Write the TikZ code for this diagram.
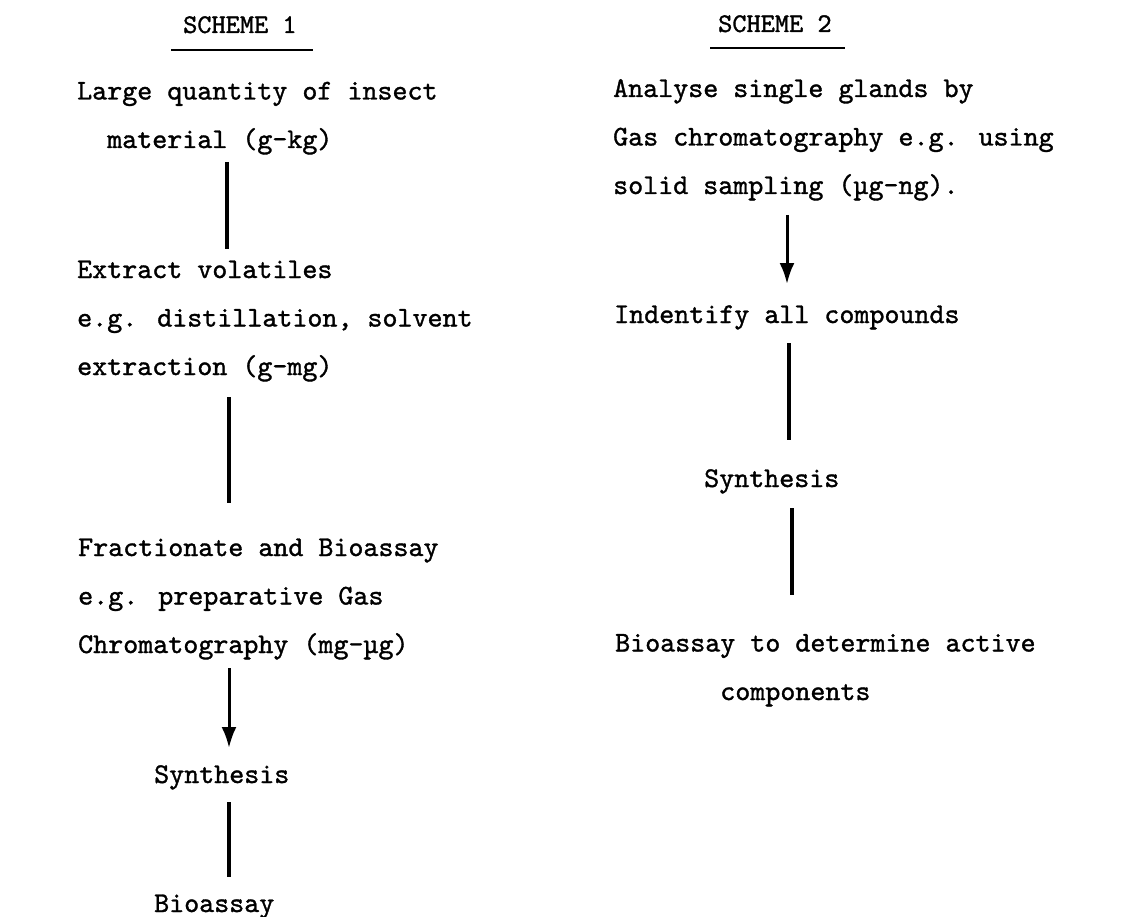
\documentclass[tikz,border=0pt]{standalone}
\usepackage{fontspec}
\newfontfamily\tw{lmmono10-regular.otf}[FakeBold=1.2]
\usetikzlibrary{arrows.meta}
\begin{document}
\begin{tikzpicture}[x=1pt,y=-1pt,
  txt/.style={anchor=base west,inner sep=0pt,align=left,
    font=\fontsize{28.6}{48.5}\selectfont\tw},
  ttl/.style={anchor=base west,inner sep=0pt,
    font=\fontsize{27}{30}\selectfont\tw},
  uline/.style={line width=2.6pt},
  link/.style={line width=3.2pt},
  arrowlink/.style={draw,line width=3pt,-{Latex[length=21pt,width=15pt]}}]
\useasboundingbox[fill=white] (0,0) rectangle (1123,917);
% titles
\node[ttl] (t1) at (183,33) {SCHEME 1};
\node[ttl] (t2) at (718,32) {SCHEME 2};
\coordinate (u1a) at (171,50); \coordinate (u1b) at (313,50);
\coordinate (u2a) at (710,48); \coordinate (u2b) at (845,48);
\draw[uline] (u1a) -- (u1b);
\draw[uline] (u2a) -- (u2b);
% scheme 1 (base anchor = baseline of last line)
\node[txt] (a1) at (77,148) {Large quantity of insect\\\hphantom{12}material (g-kg)};
\node[txt] (a2) at (77,375) {Extract volatiles\\e.g. distillation, solvent\\extraction (g-mg)};
\node[txt] (a3) at (78,653) {Fractionate and Bioassay\\e.g. preparative Gas\\Chromatography (mg-\textmu g)};
\node[txt] (a4) at (154,783) {Synthesis};
\node[txt] (a5) at (154,912) {Bioassay};
% scheme 2
\node[txt] (b1) at (613,194) {Analyse single glands by\\Gas chromatography e.g. using\\solid sampling (\textmu g-ng).};
\node[txt] (b2) at (614,323) {Indentify all compounds};
\node[txt] (b3) at (704,487) {Synthesis};
\node[txt] (b4) at (615,700) {Bioassay to determine active\\\hphantom{1234567}components};
% connector ends
\coordinate (a1s) at (227,162); \coordinate (a2n) at (227,249);
\coordinate (a2s) at (229,397); \coordinate (a3n) at (229,503);
\coordinate (a3s) at (229,668); \coordinate (a4n) at (229,748);
\coordinate (a4s) at (229,802); \coordinate (a5n) at (229,877);
\coordinate (b1s) at (787,215); \coordinate (b2n) at (787,284);
\coordinate (b2s) at (789,343); \coordinate (b3n) at (789,440);
\coordinate (b3s) at (792,508); \coordinate (b4n) at (792,595);
\draw[link] (a1s) -- (a2n);
\draw[link] (a2s) -- (a3n);
\draw[arrowlink] (a3s) -- (a4n);
\draw[link] (a4s) -- (a5n);
\draw[arrowlink] (b1s) -- (b2n);
\draw[link] (b2s) -- (b3n);
\draw[link] (b3s) -- (b4n);
\end{tikzpicture}
\end{document}
